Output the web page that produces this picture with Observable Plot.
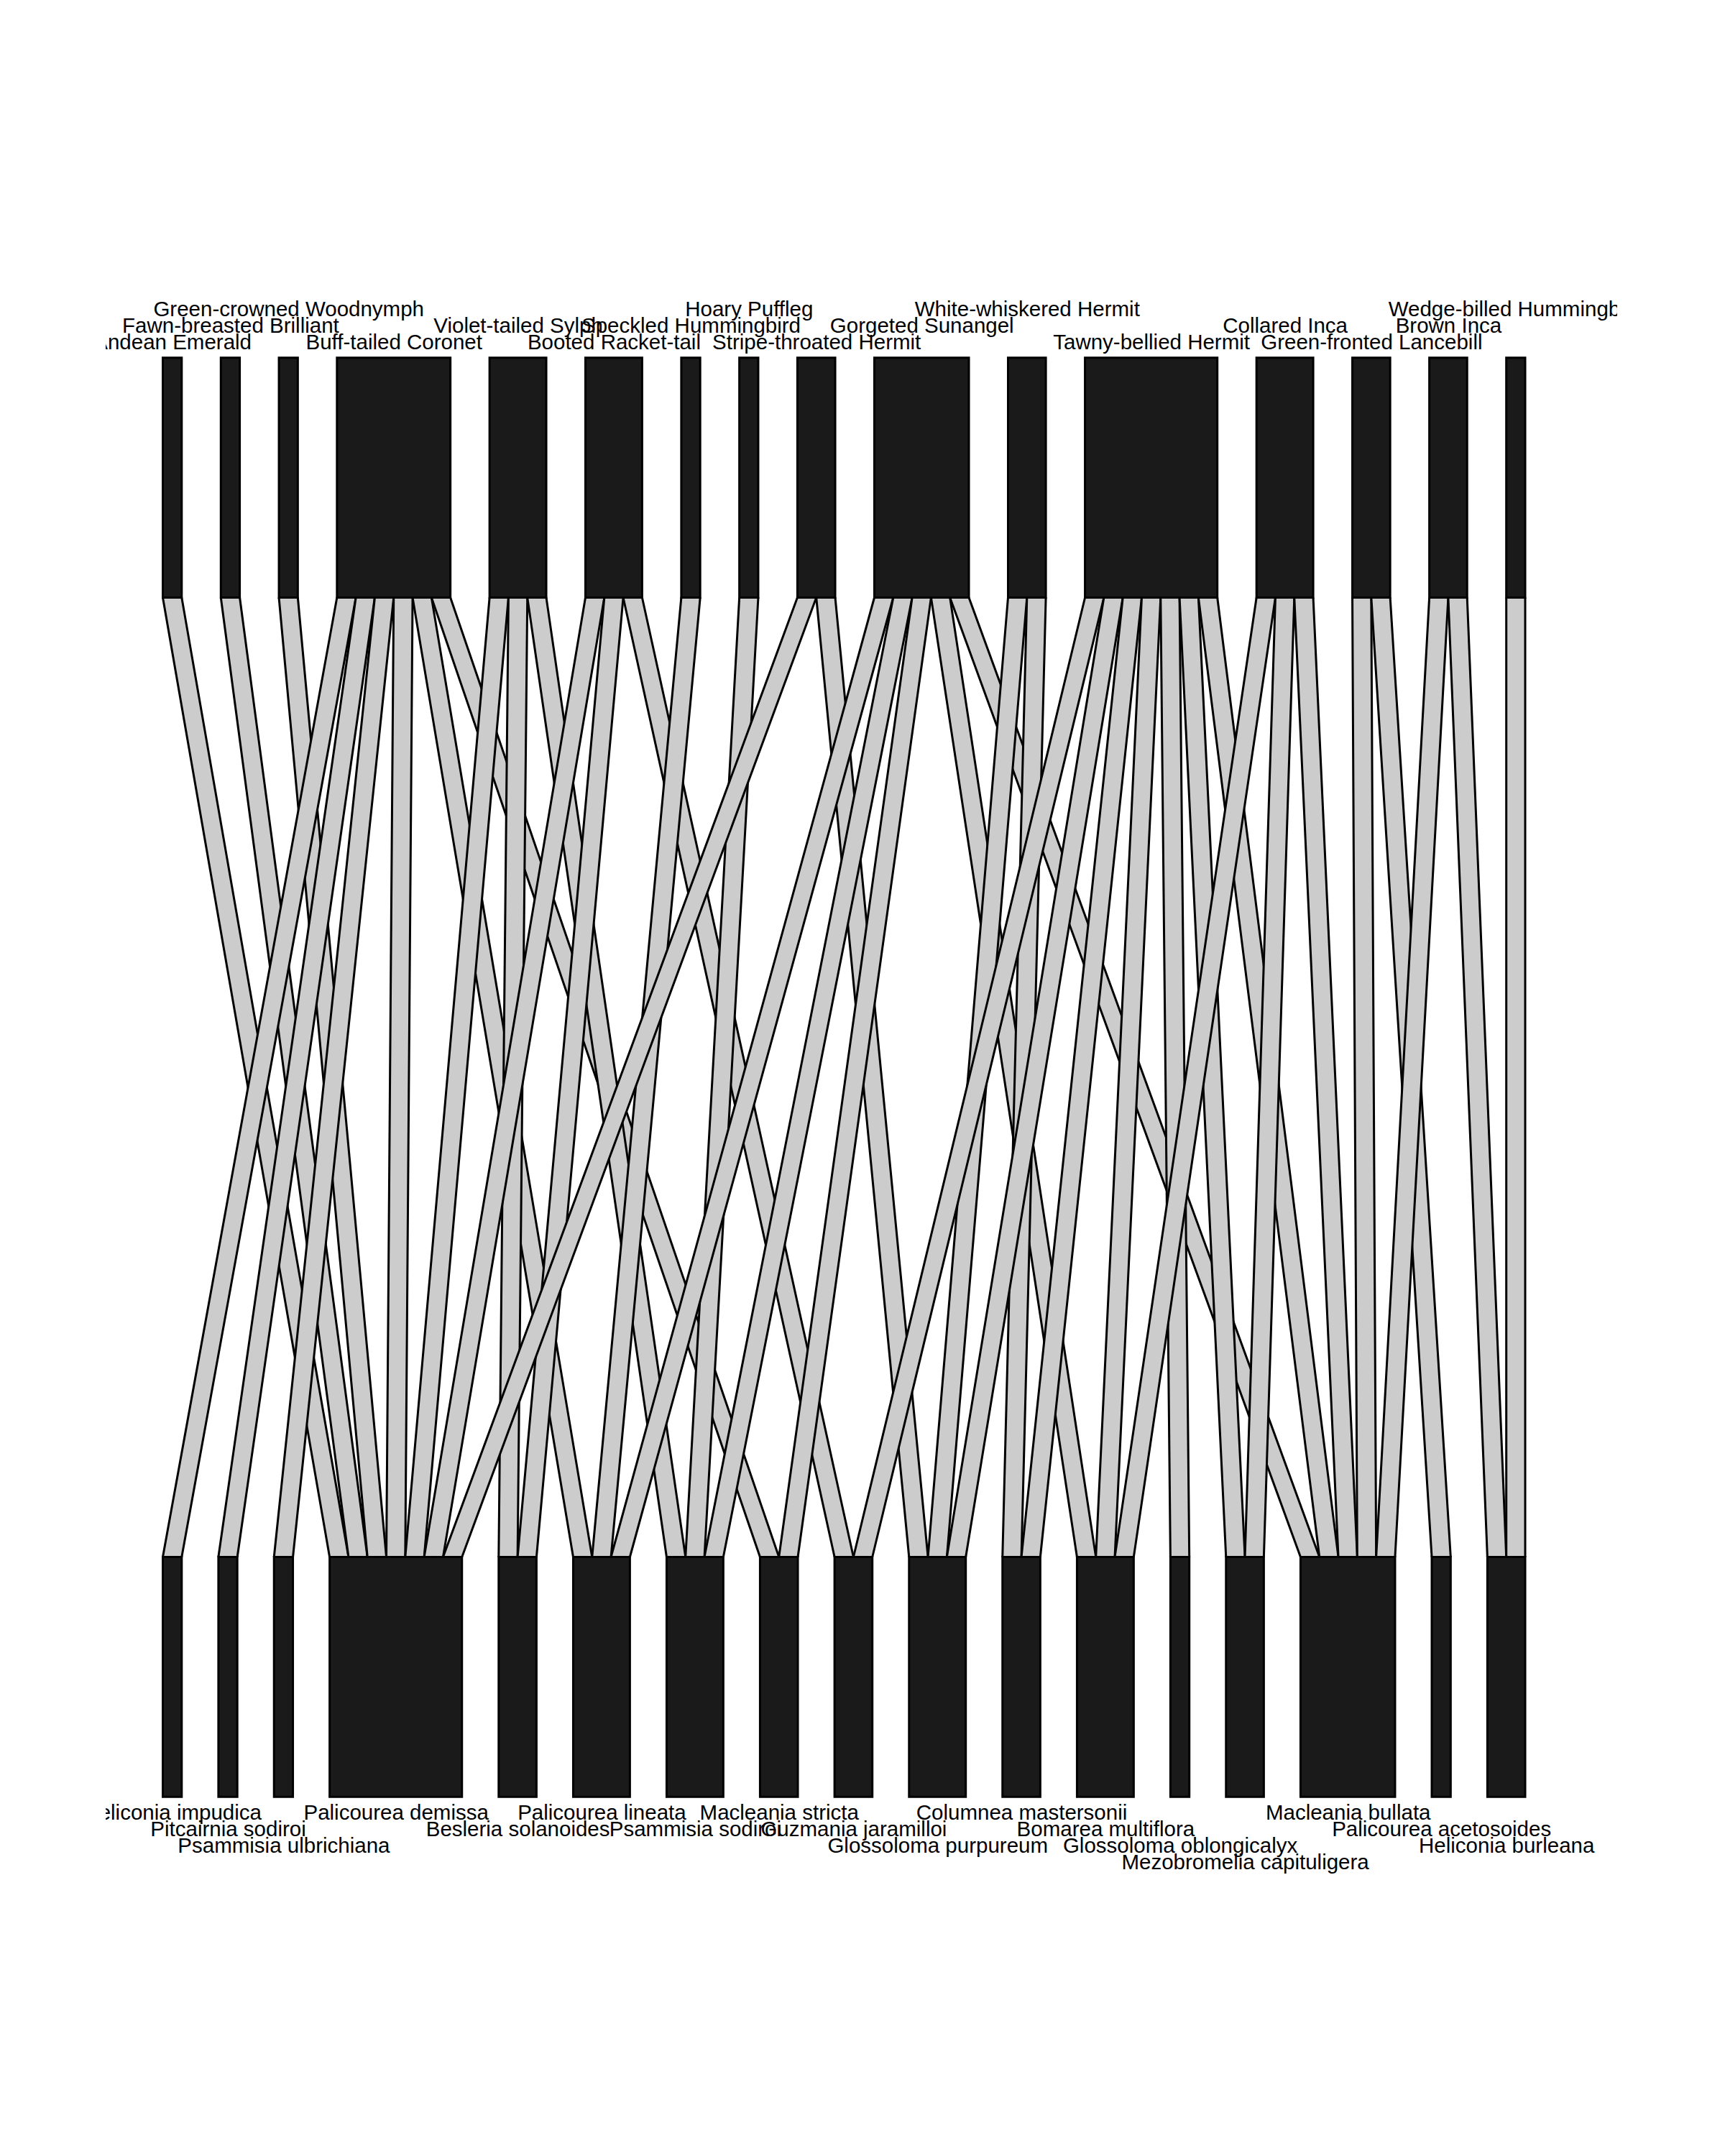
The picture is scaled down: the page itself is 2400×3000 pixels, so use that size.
<!DOCTYPE html>
<html>
<head>
<meta charset="utf-8">
<script src="https://cdn.jsdelivr.net/npm/d3@7"></script>
<script src="https://cdn.jsdelivr.net/npm/@observablehq/plot@0.6"></script>
<style>
  body { margin: 0; background: #ffffff; }
  #chart svg { display: block; }
</style>
</head>
<body>
<div id="chart"></div>
<script>
// ---------------- data ----------------
const hummingbirds = [
  "Andean Emerald", "Fawn-breasted Brilliant", "Green-crowned Woodnymph",
  "Buff-tailed Coronet", "Violet-tailed Sylph", "Booted Racket-tail",
  "Speckled Hummingbird", "Hoary Puffleg", "Stripe-throated Hermit",
  "Gorgeted Sunangel", "White-whiskered Hermit", "Tawny-bellied Hermit",
  "Collared Inca", "Green-fronted Lancebill", "Brown Inca",
  "Wedge-billed Hummingbird"
];

const plants = [
  "Heliconia impudica", "Pitcairnia sodiroi", "Psammisia ulbrichiana",
  "Palicourea demissa", "Besleria solanoides", "Palicourea lineata",
  "Psammisia sodiroi", "Macleania stricta", "Guzmania jaramilloi",
  "Glossoloma purpureum", "Columnea mastersonii", "Bomarea multiflora",
  "Glossoloma oblongicalyx", "Mezobromelia capituligera", "Macleania bullata",
  "Palicourea acetosoides", "Heliconia burleana"
];

// plants visited by each hummingbird (one interaction each)
const visitedPlants = [
  ["Palicourea demissa"],
  ["Palicourea demissa"],
  ["Palicourea demissa"],
  ["Heliconia impudica", "Pitcairnia sodiroi", "Psammisia ulbrichiana", "Palicourea demissa", "Palicourea lineata", "Macleania stricta"],
  ["Palicourea demissa", "Besleria solanoides", "Psammisia sodiroi"],
  ["Palicourea demissa", "Besleria solanoides", "Guzmania jaramilloi"],
  ["Palicourea lineata"],
  ["Psammisia sodiroi"],
  ["Palicourea demissa", "Glossoloma purpureum"],
  ["Palicourea lineata", "Psammisia sodiroi", "Macleania stricta", "Bomarea multiflora", "Macleania bullata"],
  ["Glossoloma purpureum", "Columnea mastersonii"],
  ["Guzmania jaramilloi", "Glossoloma purpureum", "Columnea mastersonii", "Bomarea multiflora", "Glossoloma oblongicalyx", "Mezobromelia capituligera", "Macleania bullata"],
  ["Bomarea multiflora", "Mezobromelia capituligera", "Macleania bullata"],
  ["Macleania bullata", "Palicourea acetosoides"],
  ["Macleania bullata", "Heliconia burleana"],
  ["Heliconia burleana"]
];

// ---------------- layout helpers ----------------
const W = 2400, H = 3000;
const margin = {top: 164, bottom: 166, left: 147, right: 150};
const xDomain = [-0.041942, 1.067528];
const yDomain = [0, 2];
const yLow = 0.5, yHigh = 1.5, boxH = 0.25;
const boxShare = 0.569;
const fontSize = 29.5;
const fontFamily = "'Liberation Sans', Arial, Helvetica, sans-serif";

const links = [];
hummingbirds.forEach((h, hi) => visitedPlants[hi].forEach(p => {
  links.push({id: links.length, hi, li: plants.indexOf(p), w: 1});
}));
const total = d3.sum(links, d => d.w);
const unit = boxShare / total;

function boxes(names, key) {
  const deg = names.map((_, k) => d3.sum(links.filter(l => l[key] === k), l => l.w));
  const gap = (1 - boxShare) / (names.length - 1);
  let x = 0;
  return names.map((name, k) => {
    const b = {name, k, x1: x, x2: x + deg[k] * unit};
    x = b.x2 + gap;
    return b;
  });
}
const topBoxes = boxes(hummingbirds, "hi");
const botBoxes = boxes(plants, "li");

// segment positions within each box
const topSeg = new Map(), botSeg = new Map();
topBoxes.forEach(b => {
  let x = b.x1;
  links.filter(l => l.hi === b.k).sort((a, c) => a.li - c.li)
    .forEach(l => { topSeg.set(l.id, [x, x + l.w * unit]); x += l.w * unit; });
});
botBoxes.forEach(b => {
  let x = b.x1;
  links.filter(l => l.li === b.k).sort((a, c) => a.hi - c.hi)
    .forEach(l => { botSeg.set(l.id, [x, x + l.w * unit]); x += l.w * unit; });
});

const bands = [];
links.forEach(l => {
  const t = topSeg.get(l.id), b = botSeg.get(l.id);
  bands.push({id: l.id, y: yHigh, x1: t[0], x2: t[1]});
  bands.push({id: l.id, y: yLow, x1: b[0], x2: b[1]});
});

// label stagger: move a label one row further when it overlaps the last first-row label
const xpx = d => margin.left + (d - xDomain[0]) / (xDomain[1] - xDomain[0]) * (W - margin.left - margin.right);
const ctx = document.createElement("canvas").getContext("2d");
ctx.font = `${fontSize}px ${fontFamily}`;
function stagger(bxs) {
  let lastRight = -Infinity, prev = 0;
  return bxs.map(b => {
    const c = xpx((b.x1 + b.x2) / 2);
    const w = ctx.measureText(b.name).width;
    let row;
    if (c - w / 2 < lastRight + 4) row = prev + 1;
    else { row = 0; lastRight = c + w / 2; }
    prev = row;
    return {name: b.name, x: (b.x1 + b.x2) / 2, row};
  });
}
const topLabels = stagger(topBoxes);
const botLabels = stagger(botBoxes);

const labelMarks = [];
const rowStep = 23;
for (let r = 0; r < 5; r++) {
  labelMarks.push(Plot.text(topLabels.filter(d => d.row === r), {
    x: "x", y: yHigh + boxH, text: "name", lineAnchor: "bottom", textAnchor: "middle",
    dy: -(12 + rowStep * r), fontSize, fill: "black", clip: true
  }));
  labelMarks.push(Plot.text(botLabels.filter(d => d.row === r), {
    x: "x", y: yLow - boxH, text: "name", lineAnchor: "bottom", textAnchor: "middle",
    dy: 31.5 + 22.8 * r, fontSize, fill: "black", clip: true
  }));
}

const chart = Plot.plot({
  width: W, height: H,
  marginTop: margin.top, marginBottom: margin.bottom,
  marginLeft: margin.left, marginRight: margin.right,
  x: {domain: xDomain, axis: null},
  y: {domain: yDomain, axis: null},
  style: {fontFamily, fontSize: `${fontSize}px`, background: "white", color: "black"},
  marks: [
    Plot.areaX(bands, {y: "y", x1: "x1", x2: "x2", z: "id", fill: "#cccccc", stroke: "black", strokeWidth: 3, strokeLinejoin: "miter"}),
    Plot.rect(topBoxes, {x1: "x1", x2: "x2", y1: yHigh, y2: yHigh + boxH, fill: "#1a1a1a", stroke: "black", strokeWidth: 3}),
    Plot.rect(botBoxes, {x1: "x1", x2: "x2", y1: yLow - boxH, y2: yLow, fill: "#1a1a1a", stroke: "black", strokeWidth: 3}),
    ...labelMarks
  ]
});
document.getElementById("chart").append(chart);
</script>
</body>
</html>
